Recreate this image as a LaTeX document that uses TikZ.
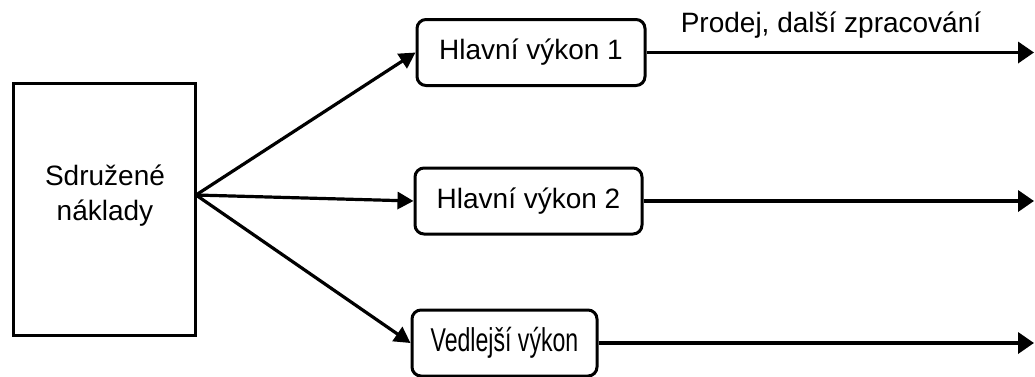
\documentclass[tikz,border=0pt]{standalone}
\usepackage{fontspec}
\setmainfont{Liberation Sans}
\usetikzlibrary{arrows.meta}
\begin{document}
\begin{tikzpicture}[x=1pt,y=-1pt,
  every node/.style={font=\fontsize{28}{35}\selectfont},
  bigbox/.style={draw,line width=3pt,minimum width=182pt,minimum height=252pt,inner sep=0pt},
  perfbox/.style={draw,line width=3pt,rounded corners=9pt,minimum height=66pt,inner sep=0pt},
  flow/.style={line width=3.2pt,-{Triangle[length=16pt,width=17pt]}},
  outflow/.style={line width=3.6pt,-{Triangle[length=16pt,width=21pt]}}]
\useasboundingbox (0,0) rectangle (1035,376);
\node[bigbox] (S) at (104,209) {};
\node[align=center] (St) at (105,196) {Sdružené\\náklady};
\coordinate (o) at (196,195);
\node[perfbox,minimum width=228pt] (H1) at (531,52.5) {Hlavní výkon 1};
\node[perfbox,minimum width=227pt] (H2) at (528.5,201) {Hlavní výkon 2};
\node[perfbox,minimum width=185pt,font=\fontsize{33}{40}\selectfont] (V) at (504.5,343) {\scalebox{0.7}[1]{Vedlejší výkon}};
\coordinate (e1) at (1034,52.5);
\coordinate (e2) at (1034,201);
\coordinate (e3) at (1034,343);
\draw[flow] (o) -- (H1.west);
\draw[flow] (o) -- (H2.west);
\draw[flow] (o) -- (V.west);
\draw[outflow] (H1.east) -- (e1);
\draw[outflow] (H2.east) -- (e2);
\draw[outflow] (V.east) -- (e3);
\node (L) at (831,25) {Prodej, další zpracování};
\end{tikzpicture}
\end{document}
